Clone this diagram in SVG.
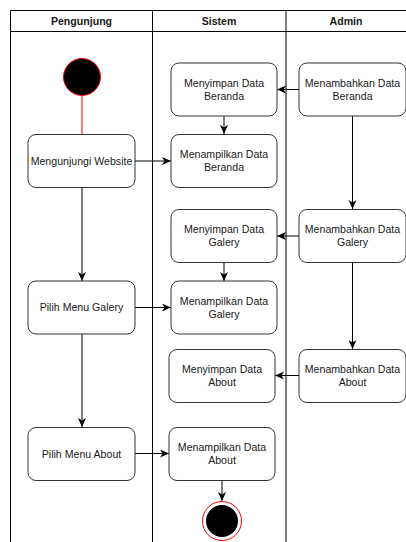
<svg xmlns="http://www.w3.org/2000/svg" width="406" height="542" viewBox="0 0 406 542">
<style>
.lane{fill:none;stroke:#000;stroke-width:1}
.hdr{font-family:"Liberation Sans",Arial,sans-serif;font-size:10.6px;font-weight:bold;fill:#1a1a1a;text-anchor:middle}
.node rect{fill:#fff;stroke:#333;stroke-width:1}
.node text{font-family:"Liberation Sans",Arial,sans-serif;font-size:10.6px;fill:#1a1a1a;text-anchor:middle}
.edge{fill:none;stroke:#000;stroke-width:1}
</style>
<defs>
<marker id="arr" markerUnits="userSpaceOnUse" markerWidth="10" markerHeight="9" refX="9" refY="4" orient="auto">
<path d="M0,0 L9,4 L0,8 L2.5,4 Z" fill="#000"/>
</marker>
</defs>
<rect width="406" height="542" fill="#fff"/>
<g id="lanes">
<line class="lane" x1="10.5" y1="10.5" x2="406" y2="10.5"/>
<line class="lane" x1="10.5" y1="31.5" x2="406" y2="31.5"/>
<line class="lane" x1="10.5" y1="10.5" x2="10.5" y2="542"/>
<line class="lane" x1="152.5" y1="10.5" x2="152.5" y2="542"/>
<line class="lane" x1="286" y1="10.5" x2="286" y2="542"/>
<text class="hdr" x="81.5" y="24.5">Pengunjung</text>
<text class="hdr" x="219" y="24.5">Sistem</text>
<text class="hdr" x="346" y="24.5">Admin</text>
</g>
<g id="connectors">
<line x1="82" y1="96" x2="82" y2="134" stroke="#ff0000" stroke-width="1"/>
<line class="edge" x1="135" y1="161" x2="171" y2="161" marker-end="url(#arr)"/>
<line class="edge" x1="299" y1="89.5" x2="277" y2="89.5" marker-end="url(#arr)"/>
<line class="edge" x1="224" y1="116" x2="224" y2="134" marker-end="url(#arr)"/>
<line class="edge" x1="352.5" y1="116" x2="352.5" y2="209" marker-end="url(#arr)"/>
<line class="edge" x1="82" y1="188" x2="82" y2="281" marker-end="url(#arr)"/>
<line class="edge" x1="299" y1="236" x2="277" y2="236" marker-end="url(#arr)"/>
<line class="edge" x1="224" y1="263" x2="224" y2="281" marker-end="url(#arr)"/>
<line class="edge" x1="135" y1="307.5" x2="171" y2="307.5" marker-end="url(#arr)"/>
<line class="edge" x1="352.5" y1="263" x2="352.5" y2="349" marker-end="url(#arr)"/>
<line class="edge" x1="299" y1="375.5" x2="275" y2="375.5" marker-end="url(#arr)"/>
<line class="edge" x1="82" y1="334" x2="82" y2="427" marker-end="url(#arr)"/>
<line class="edge" x1="135" y1="453.5" x2="169" y2="453.5" marker-end="url(#arr)"/>
<line class="edge" x1="222" y1="480" x2="222" y2="501" marker-end="url(#arr)"/>
</g>
<g id="start">
<circle cx="82" cy="77" r="18.5" fill="#000" stroke="#ff0000" stroke-width="1"/>
</g>
<g id="n-mengunjungi" class="node">
<rect x="28" y="134.5" width="107" height="53" rx="8"/>
<text x="81.5" y="164.5">Mengunjungi Website</text>
</g>
<g id="n-simpan-beranda" class="node">
<rect x="171" y="63" width="106" height="53" rx="8"/>
<text x="224" y="86.5">Menyimpan Data</text>
<text x="224" y="99.5">Beranda</text>
</g>
<g id="n-tampil-beranda" class="node">
<rect x="171" y="134.5" width="106" height="53" rx="8"/>
<text x="224" y="158">Menampilkan Data</text>
<text x="224" y="171">Beranda</text>
</g>
<g id="n-tambah-beranda" class="node">
<rect x="299" y="63" width="107" height="53" rx="8"/>
<text x="352.5" y="86.5">Menambahkan Data</text>
<text x="352.5" y="99.5">Beranda</text>
</g>
<g id="n-simpan-galery" class="node">
<rect x="171" y="209.5" width="106" height="53" rx="8"/>
<text x="224" y="233">Menyimpan Data</text>
<text x="224" y="246">Galery</text>
</g>
<g id="n-tambah-galery" class="node">
<rect x="299" y="209.5" width="107" height="53" rx="8"/>
<text x="352.5" y="233">Menambahkan Data</text>
<text x="352.5" y="246">Galery</text>
</g>
<g id="n-pilih-galery" class="node">
<rect x="28" y="281" width="107" height="53" rx="8"/>
<text x="81.5" y="311">Pilih Menu Galery</text>
</g>
<g id="n-tampil-galery" class="node">
<rect x="171" y="281" width="106" height="53" rx="8"/>
<text x="224" y="304.5">Menampilkan Data</text>
<text x="224" y="317.5">Galery</text>
</g>
<g id="n-simpan-about" class="node">
<rect x="169" y="349.5" width="106" height="53" rx="8"/>
<text x="222" y="372.5">Menyimpan Data</text>
<text x="222" y="385.5">About</text>
</g>
<g id="n-tambah-about" class="node">
<rect x="299" y="349.5" width="107" height="53" rx="8"/>
<text x="352.5" y="372.5">Menambahkan Data</text>
<text x="352.5" y="385.5">About</text>
</g>
<g id="n-pilih-about" class="node">
<rect x="28" y="427.5" width="107" height="53" rx="8"/>
<text x="81.5" y="457.5">Pilih Menu About</text>
</g>
<g id="n-tampil-about" class="node">
<rect x="169" y="427.5" width="106" height="53" rx="8"/>
<text x="222" y="450.5">Menampilkan Data</text>
<text x="222" y="463.5">About</text>
</g>
<g id="end">
<circle cx="222" cy="521" r="19.5" fill="#fff" stroke="#ff0000" stroke-width="1"/>
<circle cx="222" cy="521" r="16" fill="#000"/>
</g>
</svg>
